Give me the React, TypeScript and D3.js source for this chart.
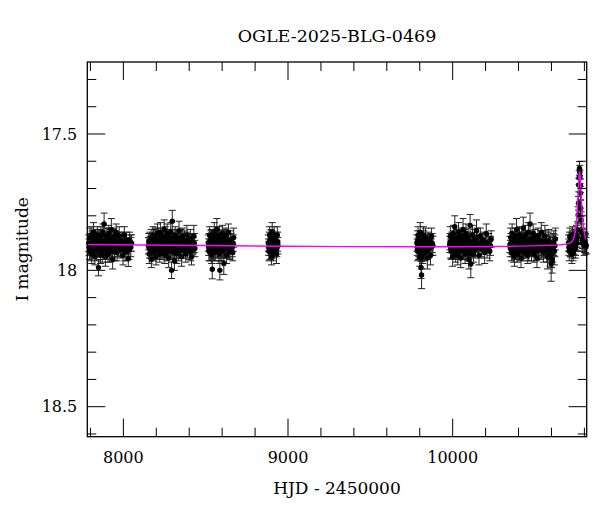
import React from "react";
import * as d3 from "d3";

// [HJD - 2450000, I mag, error]
type Obs = [number, number, number];

const title = "OGLE-2025-BLG-0469";
const xLabel = "HJD - 2450000";
const yLabel = "I magnitude";

const xMajorTicks = [8000, 9000, 10000];
const yMajorTicks = [17.5, 18, 18.5];

const season2017: Obs[] = [
  [7790, 17.9, 0.03], [7794, 17.93, 0.03], [7797, 17.88, 0.035], [7801, 17.91, 0.03],
  [7805, 17.87, 0.03], [7808, 17.94, 0.035], [7812, 17.9, 0.03], [7816, 17.92, 0.03],
  [7819, 17.86, 0.035], [7823, 17.89, 0.03], [7827, 17.95, 0.03], [7830, 17.91, 0.03],
  [7834, 17.88, 0.03], [7838, 17.93, 0.035], [7842, 17.87, 0.03], [7846, 17.9, 0.03],
  [7849, 17.99, 0.03], [7853, 17.92, 0.03], [7857, 17.885, 0.035], [7861, 17.945, 0.03],
  [7864, 17.87, 0.03], [7868, 17.905, 0.03], [7872, 17.935, 0.035], [7876, 17.86, 0.03],
  [7880, 17.915, 0.03], [7883, 17.83, 0.04], [7887, 17.895, 0.03], [7891, 17.95, 0.035],
  [7895, 17.875, 0.03], [7899, 17.92, 0.03], [7903, 17.9, 0.035], [7907, 17.94, 0.03],
  [7911, 17.865, 0.03], [7915, 17.91, 0.03], [7919, 17.885, 0.035], [7923, 17.93, 0.03],
  [7927, 17.85, 0.04], [7931, 17.905, 0.03], [7935, 17.96, 0.035], [7940, 17.88, 0.03],
  [7945, 17.92, 0.03], [7950, 17.895, 0.035], [7956, 17.86, 0.03], [7962, 17.935, 0.03],
  [7968, 17.9, 0.03], [7975, 17.875, 0.035], [7982, 17.925, 0.03], [7990, 17.89, 0.03],
  [7998, 17.945, 0.035], [8006, 17.87, 0.03], [8015, 17.91, 0.03], [8022, 17.93, 0.035],
  [8030, 17.956, 0.03], [8038, 17.89, 0.03], [8045, 17.915, 0.035], [8050, 17.9, 0.03],
  [7792, 17.915, 0.03], [7799, 17.9, 0.035], [7803, 17.935, 0.03], [7810, 17.885, 0.03],
  [7814, 17.905, 0.035], [7821, 17.925, 0.03], [7825, 17.9, 0.03], [7832, 17.895, 0.035],
  [7836, 17.915, 0.03], [7844, 17.92, 0.03], [7851, 17.885, 0.035], [7855, 17.9, 0.03],
  [7859, 17.92, 0.03], [7866, 17.89, 0.035], [7870, 17.91, 0.03], [7878, 17.895, 0.03],
  [7885, 17.925, 0.035], [7889, 17.91, 0.03], [7897, 17.9, 0.03], [7901, 17.88, 0.035],
  [7909, 17.915, 0.03], [7913, 17.895, 0.03], [7917, 17.935, 0.035], [7921, 17.905, 0.03],
  [7929, 17.89, 0.03], [7933, 17.92, 0.035], [7938, 17.9, 0.03], [7943, 17.875, 0.03],
  [7948, 17.93, 0.035], [7953, 17.91, 0.03], [7959, 17.895, 0.03], [7965, 17.915, 0.035],
  [7972, 17.9, 0.03], [7979, 17.89, 0.03], [7986, 17.91, 0.035], [7994, 17.92, 0.03],
  [8002, 17.9, 0.03], [8010, 17.93, 0.035], [8018, 17.89, 0.03], [8026, 17.91, 0.03],
  [8034, 17.925, 0.035], [8042, 17.9, 0.03],
];

const season2018: Obs[] = [
  [8152, 17.91, 0.03], [8157, 17.94, 0.035], [8161, 17.89, 0.03], [8166, 17.925, 0.03],
  [8170, 17.96, 0.03], [8175, 17.9, 0.035], [8180, 17.87, 0.03], [8184, 17.935, 0.03],
  [8189, 17.91, 0.03], [8194, 17.88, 0.035], [8198, 17.95, 0.03], [8203, 17.905, 0.03],
  [8207, 17.865, 0.035], [8212, 17.92, 0.03], [8216, 17.89, 0.03], [8221, 17.94, 0.03],
  [8225, 17.86, 0.035], [8230, 17.9, 0.03], [8234, 17.93, 0.03], [8239, 17.875, 0.03],
  [8243, 17.91, 0.035], [8248, 17.85, 0.035], [8252, 17.945, 0.03], [8257, 17.885, 0.03],
  [8261, 17.92, 0.03], [8266, 17.865, 0.035], [8270, 17.9, 0.03], [8275, 17.955, 0.035],
  [8279, 17.88, 0.03], [8284, 17.915, 0.03], [8288, 17.86, 0.035], [8293, 18.0, 0.03],
  [8297, 17.82, 0.04], [8301, 17.93, 0.03], [8306, 17.895, 0.03], [8310, 17.965, 0.035],
  [8315, 17.87, 0.03], [8319, 17.91, 0.03], [8324, 17.94, 0.035], [8328, 17.88, 0.03],
  [8333, 17.905, 0.03], [8338, 17.855, 0.035], [8343, 17.925, 0.03], [8348, 17.895, 0.03],
  [8354, 17.95, 0.035], [8360, 17.875, 0.03], [8366, 17.915, 0.03], [8372, 17.89, 0.035],
  [8379, 17.94, 0.03], [8386, 17.87, 0.035], [8393, 17.905, 0.03], [8400, 17.93, 0.03],
  [8407, 17.885, 0.035], [8414, 17.95, 0.03], [8421, 17.9, 0.03], [8428, 17.875, 0.04],
  [8434, 17.92, 0.03],
  [8154, 17.895, 0.03], [8159, 17.92, 0.035], [8163, 17.905, 0.03], [8168, 17.88, 0.03],
  [8172, 17.915, 0.035], [8177, 17.93, 0.03], [8182, 17.9, 0.03], [8186, 17.885, 0.035],
  [8191, 17.92, 0.03], [8196, 17.905, 0.03], [8200, 17.89, 0.035], [8205, 17.925, 0.03],
  [8209, 17.9, 0.03], [8214, 17.88, 0.035], [8218, 17.91, 0.03], [8223, 17.93, 0.03],
  [8227, 17.895, 0.035], [8232, 17.915, 0.03], [8236, 17.905, 0.03], [8241, 17.89, 0.035],
  [8245, 17.925, 0.03], [8250, 17.9, 0.03], [8255, 17.875, 0.035], [8259, 17.91, 0.03],
  [8263, 17.935, 0.03], [8268, 17.895, 0.035], [8272, 17.92, 0.03], [8277, 17.9, 0.03],
  [8281, 17.885, 0.035], [8286, 17.93, 0.03], [8290, 17.905, 0.03], [8295, 17.92, 0.035],
  [8299, 17.88, 0.03], [8303, 17.91, 0.03], [8308, 17.935, 0.035], [8312, 17.895, 0.03],
  [8317, 17.9, 0.03], [8321, 17.92, 0.035], [8326, 17.885, 0.03], [8330, 17.91, 0.03],
  [8336, 17.93, 0.035], [8341, 17.9, 0.03], [8346, 17.915, 0.03], [8351, 17.885, 0.035],
  [8357, 17.905, 0.03], [8363, 17.925, 0.03], [8369, 17.9, 0.035], [8375, 17.915, 0.03],
  [8382, 17.89, 0.03], [8389, 17.92, 0.035], [8396, 17.9, 0.03], [8403, 17.91, 0.03],
  [8410, 17.93, 0.035], [8417, 17.895, 0.03], [8424, 17.91, 0.03], [8431, 17.9, 0.035],
];

const season2019: Obs[] = [
  [8516, 17.9, 0.03], [8520, 17.93, 0.035], [8524, 17.87, 0.03], [8528, 17.915, 0.03],
  [8532, 17.89, 0.035], [8536, 17.945, 0.03], [8540, 17.996, 0.035], [8544, 17.88, 0.03],
  [8548, 17.91, 0.03], [8552, 17.86, 0.035], [8556, 17.935, 0.03], [8560, 17.9, 0.03],
  [8564, 17.875, 0.035], [8568, 17.85, 0.04], [8572, 17.925, 0.03], [8576, 17.895, 0.03],
  [8580, 17.94, 0.035], [8583, 17.87, 0.03], [8586, 18.0, 0.035], [8590, 17.91, 0.03],
  [8594, 17.885, 0.03], [8598, 17.93, 0.035], [8602, 17.865, 0.03], [8606, 17.905, 0.03],
  [8610, 17.975, 0.04], [8614, 17.89, 0.03], [8618, 17.92, 0.035], [8622, 17.875, 0.03],
  [8627, 17.945, 0.03], [8632, 17.9, 0.035], [8638, 17.86, 0.03], [8644, 17.925, 0.03],
  [8650, 17.89, 0.035], [8657, 17.91, 0.03], [8664, 17.935, 0.03], [8670, 17.88, 0.035],
  [8518, 17.915, 0.03], [8522, 17.895, 0.03], [8526, 17.93, 0.035], [8530, 17.905, 0.03],
  [8534, 17.88, 0.03], [8538, 17.92, 0.035], [8542, 17.9, 0.03], [8546, 17.935, 0.03],
  [8550, 17.89, 0.035], [8554, 17.91, 0.03], [8558, 17.925, 0.03], [8562, 17.895, 0.035],
  [8566, 17.91, 0.03], [8570, 17.88, 0.03], [8574, 17.905, 0.035], [8578, 17.92, 0.03],
  [8581, 17.895, 0.03], [8588, 17.93, 0.035], [8592, 17.9, 0.03], [8596, 17.915, 0.03],
  [8600, 17.89, 0.035], [8604, 17.925, 0.03], [8608, 17.9, 0.03], [8612, 17.915, 0.035],
  [8616, 17.88, 0.03], [8620, 17.905, 0.03], [8625, 17.92, 0.035], [8630, 17.895, 0.03],
  [8635, 17.91, 0.03], [8641, 17.9, 0.035], [8647, 17.93, 0.03], [8654, 17.895, 0.03],
  [8661, 17.915, 0.035], [8667, 17.9, 0.03],
];

const season2020: Obs[] = [
  [8880, 17.9, 0.03], [8884, 17.93, 0.035], [8888, 17.87, 0.03], [8892, 17.915, 0.03],
  [8896, 17.885, 0.035], [8900, 17.95, 0.03], [8904, 17.86, 0.035], [8908, 17.905, 0.03],
  [8912, 17.935, 0.03], [8916, 17.875, 0.035], [8920, 17.92, 0.03], [8925, 17.89, 0.03],
  [8930, 17.94, 0.035], [8935, 17.87, 0.03], [8939, 17.91, 0.03],
  [8882, 17.915, 0.03], [8886, 17.895, 0.035], [8890, 17.93, 0.03], [8894, 17.9, 0.03],
  [8898, 17.92, 0.035], [8902, 17.885, 0.03], [8906, 17.915, 0.03], [8910, 17.9, 0.035],
  [8914, 17.925, 0.03], [8918, 17.895, 0.03], [8922, 17.91, 0.035], [8928, 17.9, 0.03],
  [8932, 17.92, 0.03], [8937, 17.895, 0.035],
];

const season2022: Obs[] = [
  [9783, 17.9, 0.03], [9787, 17.93, 0.035], [9790, 17.87, 0.03], [9794, 17.915, 0.035],
  [9797, 17.885, 0.03], [9800, 17.95, 0.035], [9803, 17.86, 0.035], [9806, 17.925, 0.03],
  [9808, 17.99, 0.04], [9811, 18.017, 0.05], [9814, 17.895, 0.03], [9818, 17.94, 0.035],
  [9822, 17.87, 0.03], [9826, 17.905, 0.035], [9830, 17.935, 0.03], [9835, 17.88, 0.035],
  [9840, 17.92, 0.03], [9846, 17.955, 0.04], [9852, 17.89, 0.03], [9858, 17.915, 0.035],
  [9865, 17.945, 0.035], [9872, 17.875, 0.03], [9880, 17.91, 0.035],
  [9785, 17.915, 0.03], [9788, 17.89, 0.035], [9792, 17.93, 0.03], [9795, 17.9, 0.03],
  [9799, 17.92, 0.035], [9802, 17.895, 0.03], [9805, 17.91, 0.03], [9810, 17.955, 0.04],
  [9813, 17.93, 0.035], [9816, 17.905, 0.03], [9820, 17.915, 0.03], [9824, 17.89, 0.035],
  [9828, 17.925, 0.03], [9833, 17.9, 0.03], [9838, 17.91, 0.035], [9843, 17.93, 0.03],
  [9849, 17.9, 0.03], [9855, 17.92, 0.035], [9862, 17.895, 0.03], [9869, 17.915, 0.03],
  [9876, 17.9, 0.035],
];

const season2023: Obs[] = [
  [9982, 17.905, 0.03], [9986, 17.875, 0.035], [9991, 17.93, 0.03], [9995, 17.89, 0.03],
  [10000, 17.95, 0.035], [10004, 17.865, 0.03], [10009, 17.915, 0.03], [10013, 17.84, 0.04],
  [10018, 17.935, 0.035], [10022, 17.9, 0.03], [10027, 17.88, 0.03], [10031, 17.945, 0.035],
  [10036, 17.86, 0.035], [10040, 17.92, 0.03], [10045, 17.895, 0.03], [10049, 17.955, 0.035],
  [10054, 17.875, 0.03], [10058, 17.91, 0.035], [10063, 17.85, 0.04], [10067, 17.93, 0.03],
  [10072, 17.89, 0.03], [10076, 17.94, 0.035], [10081, 17.865, 0.035], [10085, 17.905, 0.03],
  [10090, 17.925, 0.03], [10094, 17.88, 0.035], [10098, 17.96, 0.035], [10103, 17.895, 0.03],
  [10106, 17.835, 0.04], [10110, 17.977, 0.05], [10115, 17.915, 0.03], [10120, 17.87, 0.035],
  [10126, 17.94, 0.03], [10132, 17.885, 0.035], [10138, 17.92, 0.03], [10145, 17.855, 0.04],
  [10152, 17.9, 0.03], [10160, 17.945, 0.035], [10168, 17.875, 0.03], [10176, 17.915, 0.035],
  [10185, 17.89, 0.03], [10194, 17.935, 0.04], [10204, 17.865, 0.035], [10214, 17.905, 0.03],
  [10225, 17.93, 0.035], [10234, 17.885, 0.03],
  [9984, 17.895, 0.03], [9988, 17.92, 0.035], [9993, 17.905, 0.03], [9997, 17.925, 0.03],
  [10002, 17.9, 0.035], [10006, 17.885, 0.03], [10011, 17.92, 0.03], [10015, 17.895, 0.035],
  [10020, 17.91, 0.03], [10024, 17.93, 0.03], [10029, 17.9, 0.035], [10033, 17.915, 0.03],
  [10038, 17.885, 0.03], [10042, 17.905, 0.035], [10047, 17.925, 0.03], [10051, 17.9, 0.03],
  [10056, 17.89, 0.035], [10060, 17.93, 0.03], [10065, 17.905, 0.03], [10069, 17.915, 0.035],
  [10074, 17.88, 0.03], [10078, 17.92, 0.03], [10083, 17.9, 0.035], [10087, 17.89, 0.03],
  [10092, 17.935, 0.03], [10096, 17.91, 0.035], [10100, 17.895, 0.03], [10108, 17.92, 0.03],
  [10112, 17.94, 0.035], [10117, 17.9, 0.03], [10123, 17.915, 0.03], [10129, 17.895, 0.035],
  [10135, 17.925, 0.03], [10141, 17.905, 0.03], [10148, 17.88, 0.035], [10156, 17.915, 0.03],
  [10164, 17.9, 0.03], [10172, 17.92, 0.035], [10180, 17.895, 0.03], [10189, 17.91, 0.03],
  [10199, 17.9, 0.035], [10209, 17.925, 0.03], [10219, 17.895, 0.03], [10230, 17.91, 0.035],
];

const season2024: Obs[] = [
  [10348, 17.905, 0.03], [10352, 17.88, 0.035], [10357, 17.935, 0.03], [10361, 17.865, 0.035],
  [10366, 17.92, 0.03], [10370, 17.895, 0.03], [10375, 17.95, 0.035], [10379, 17.875, 0.03],
  [10384, 17.91, 0.035], [10388, 17.85, 0.04], [10393, 17.94, 0.03], [10397, 17.89, 0.03],
  [10402, 17.925, 0.035], [10406, 17.87, 0.03], [10411, 17.905, 0.03], [10415, 17.955, 0.035],
  [10420, 17.88, 0.035], [10424, 17.915, 0.03], [10429, 17.845, 0.04], [10433, 17.935, 0.03],
  [10438, 17.895, 0.03], [10442, 17.87, 0.035], [10447, 17.925, 0.03], [10451, 17.9, 0.035],
  [10456, 17.945, 0.03], [10460, 17.86, 0.035], [10465, 17.91, 0.03], [10470, 17.83, 0.04],
  [10474, 17.885, 0.03], [10479, 17.93, 0.035], [10484, 17.9, 0.03], [10489, 17.865, 0.035],
  [10494, 17.94, 0.03], [10500, 17.88, 0.03], [10506, 17.915, 0.035], [10512, 17.955, 0.035],
  [10518, 17.875, 0.03], [10524, 17.905, 0.04], [10531, 17.925, 0.035], [10538, 17.86, 0.035],
  [10545, 17.895, 0.04], [10552, 17.935, 0.035], [10560, 17.875, 0.04], [10568, 17.915, 0.04],
  [10576, 17.95, 0.045], [10584, 17.89, 0.04], [10591, 17.94, 0.045], [10598, 17.975, 0.065],
  [10604, 17.96, 0.05], [10611, 17.905, 0.04], [10618, 17.93, 0.05], [10624, 17.885, 0.04],
  [10350, 17.92, 0.03], [10354, 17.9, 0.035], [10359, 17.91, 0.03], [10363, 17.89, 0.03],
  [10368, 17.935, 0.035], [10372, 17.91, 0.03], [10377, 17.9, 0.03], [10381, 17.925, 0.035],
  [10386, 17.895, 0.03], [10390, 17.915, 0.03], [10395, 17.905, 0.035], [10399, 17.92, 0.03],
  [10404, 17.89, 0.03], [10408, 17.93, 0.035], [10413, 17.9, 0.03], [10417, 17.915, 0.03],
  [10422, 17.895, 0.035], [10426, 17.925, 0.03], [10431, 17.905, 0.03], [10435, 17.91, 0.035],
  [10440, 17.885, 0.03], [10444, 17.92, 0.03], [10449, 17.9, 0.035], [10453, 17.915, 0.03],
  [10458, 17.895, 0.03], [10462, 17.93, 0.035], [10467, 17.905, 0.03], [10472, 17.915, 0.03],
  [10476, 17.9, 0.035], [10481, 17.89, 0.03], [10486, 17.92, 0.03], [10491, 17.905, 0.035],
  [10497, 17.915, 0.03], [10503, 17.9, 0.03], [10509, 17.93, 0.035], [10515, 17.895, 0.03],
  [10521, 17.915, 0.03], [10527, 17.9, 0.035], [10534, 17.89, 0.035], [10541, 17.92, 0.035],
  [10548, 17.905, 0.04], [10556, 17.91, 0.04], [10564, 17.895, 0.04], [10572, 17.93, 0.04],
  [10580, 17.9, 0.04], [10588, 17.915, 0.045], [10595, 17.92, 0.045], [10601, 17.94, 0.05],
  [10607, 17.925, 0.045], [10614, 17.9, 0.045], [10621, 17.91, 0.04],
];

const season2025: Obs[] = [
  [10704, 17.9, 0.03], [10708, 17.93, 0.035], [10712, 17.875, 0.03], [10716, 17.915, 0.035],
  [10720, 17.89, 0.03], [10724, 17.94, 0.035], [10728, 17.87, 0.03], [10732, 17.935, 0.03],
  [10736, 17.905, 0.035], [10740, 17.88, 0.03], [10744, 17.92, 0.035], [10748, 17.895, 0.03],
  [10752, 17.87, 0.035], [10755, 17.9, 0.03], [10759, 17.852, 0.03], [10762, 17.797, 0.03],
  [10764, 17.754, 0.025], [10766, 17.687, 0.025], [10770, 17.626, 0.025], [10773, 17.657, 0.025],
  [10776, 17.717, 0.025], [10778, 17.772, 0.03], [10780, 17.815, 0.03], [10784, 17.86, 0.03],
  [10788, 17.885, 0.035], [10793, 17.875, 0.03], [10798, 17.91, 0.035], [10803, 17.89, 0.03],
  [10808, 17.905, 0.035],
  [10706, 17.915, 0.03], [10710, 17.895, 0.035], [10714, 17.92, 0.03], [10718, 17.9, 0.03],
  [10722, 17.91, 0.035], [10726, 17.895, 0.03], [10730, 17.925, 0.03], [10734, 17.89, 0.035],
  [10738, 17.915, 0.03], [10742, 17.9, 0.03], [10746, 17.91, 0.035], [10750, 17.885, 0.03],
  [10753, 17.9, 0.03], [10757, 17.88, 0.035], [10768, 17.66, 0.025], [10772, 17.64, 0.025],
  [10775, 17.69, 0.025], [10786, 17.9, 0.03], [10791, 17.895, 0.035], [10796, 17.89, 0.03],
  [10801, 17.905, 0.03], [10806, 17.9, 0.035], [10811, 17.91, 0.03],
];

// model light curve
const modelHjd = [7781, 10691, 10721, 10736, 10746, 10752, 10757, 10761, 10765, 10768, 10771,
  10774, 10777, 10781, 10785, 10790, 10796, 10806, 10814];
const modelMag = [17.905, 17.904, 17.897, 17.88, 17.85, 17.815, 17.77, 17.725, 17.68, 17.65, 17.638,
  17.65, 17.68, 17.725, 17.77, 17.815, 17.85, 17.88, 17.889];

const width = 600;
const height = 512;
const left = 87.3, right = 586.7, top = 62, bottom = 436.7;
const font = "'DejaVu Serif', serif";

export default function App() {
  const x = d3.scaleLinear().domain([7781, 10814]).range([left, right]);
  const y = d3.scaleLinear().domain([17.236, 18.61]).range([top, bottom]);

  const obs = [season2017, season2018, season2019, season2020, season2022,
    season2023, season2024, season2025].flat();

  const model = d3.line<number>()
    .x((t) => x(t))
    .y((_, i) => y(modelMag[i]))
    .curve(d3.curveCatmullRom.alpha(0.5));

  const xMinor = d3.range(7800, 10801, 200);
  const yMinor = d3.range(173, 187).map((v) => v / 10);
  const cap = 3.5;

  return (
    <svg width={width} height={height} style={{ position: "absolute", left: 0, top: 0, background: "#fff" }}>
      <text x={(left + right) / 2} y={42} textAnchor="middle" fontFamily={font} fontSize={17.5}>{title}</text>

      {/* error bars */}
      <g stroke="#222" strokeWidth={1} fill="none">
        {obs.map(([t, m, e], i) => {
          const cx = x(t);
          const y1 = y(m - e), y2 = y(m + e);
          return (
            <g key={i}>
              <line x1={cx} x2={cx} y1={y1} y2={y2} />
              <line x1={cx - cap} x2={cx + cap} y1={y1} y2={y1} />
              <line x1={cx - cap} x2={cx + cap} y1={y2} y2={y2} />
            </g>
          );
        })}
      </g>
      <g fill="#000">
        {obs.map(([t, m], i) => (
          <circle key={i} cx={x(t)} cy={y(m)} r={2.7} />
        ))}
      </g>

      <path d={model(modelHjd) || ""} fill="none" stroke="#ff00ff" strokeWidth={1.4} />

      {/* frame and ticks */}
      <rect x={left} y={top} width={right - left} height={bottom - top} fill="none" stroke="#000" strokeWidth={1.3} />
      <g stroke="#000" strokeWidth={1}>
        {xMinor.map((t) => {
          const len = xMajorTicks.includes(t) ? 18 : 9;
          return (
            <g key={t}>
              <line x1={x(t)} x2={x(t)} y1={bottom} y2={bottom - len} />
              <line x1={x(t)} x2={x(t)} y1={top} y2={top + len} />
            </g>
          );
        })}
        {yMinor.map((m) => {
          const len = yMajorTicks.some((v) => Math.abs(v - m) < 1e-6) ? 18 : 9;
          return (
            <g key={m}>
              <line x1={left} x2={left + len} y1={y(m)} y2={y(m)} />
              <line x1={right} x2={right - len} y1={y(m)} y2={y(m)} />
            </g>
          );
        })}
      </g>

      <g fontFamily={font} fontSize={16} fill="#000">
        {xMajorTicks.map((t) => (
          <text key={t} x={x(t)} y={463} textAnchor="middle">{t}</text>
        ))}
        {yMajorTicks.map((m) => (
          <text key={m} x={left - 10} y={y(m)} dy="0.36em" textAnchor="end">{String(m)}</text>
        ))}
      </g>

      <text x={(left + right) / 2} y={494} textAnchor="middle" fontFamily={font} fontSize={17}>{xLabel}</text>
      <text transform={`translate(28, ${(top + bottom) / 2}) rotate(-90)`} textAnchor="middle" fontFamily={font} fontSize={17}>{yLabel}</text>
    </svg>
  );
}
